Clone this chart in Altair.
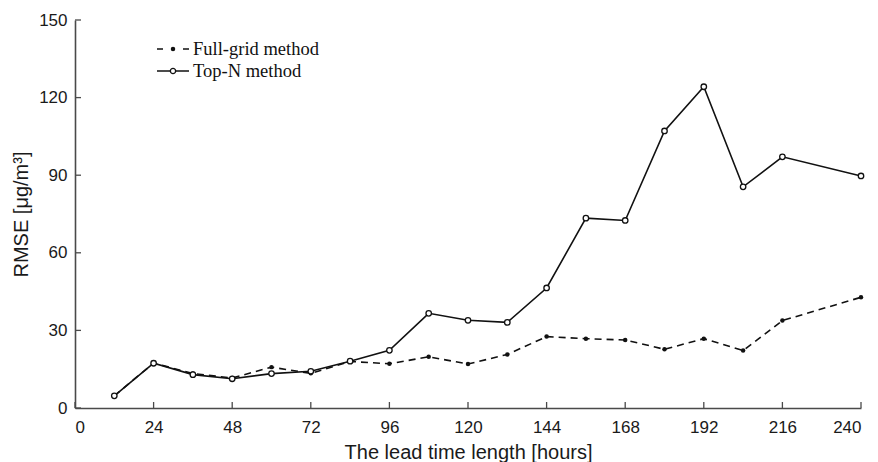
import altair as alt
import pandas as pd

# ---- data ----
hours = [12, 24, 36, 48, 60, 72, 84, 96, 108, 120, 132, 144, 156, 168, 180, 192, 204, 216, 240]
top_n = [4.7, 17.3, 12.9, 11.3, 13.3, 14.2, 18.1, 22.3, 36.6, 33.9, 33.1, 46.4, 73.4, 72.5,
         107.1, 124.2, 85.5, 97.1, 89.7]
full_grid = [4.7, 17.4, 13.3, 11.6, 15.8, 13.4, 18.0, 17.1, 19.8, 17.0, 20.7, 27.6, 26.8, 26.3,
             22.7, 26.8, 22.2, 33.8, 42.8]
x_ticks = [0, 24, 48, 72, 96, 120, 144, 168, 192, 216, 240]
y_ticks = [0, 30, 60, 90, 120, 150]
series_names = ["Full-grid method", "Top-N method"]

W, H = 786, 388
AX = "#4a4a4a"
INK = "#111111"

df_full = pd.DataFrame({"hours": hours, "rmse": full_grid})
df_top = pd.DataFrame({"hours": hours, "rmse": top_n})
df_xt = pd.DataFrame({"hours": x_ticks})
df_yt = pd.DataFrame({"rmse": y_ticks})

X = alt.X("hours:Q", title="The lead time length [hours]",
          scale=alt.Scale(domain=[0, 240], nice=False, zero=False),
          axis=alt.Axis(values=x_ticks, tickSize=0, ticks=False, labelPadding=11,
                        titlePadding=7, grid=False))
Y = alt.Y("rmse:Q", title="RMSE [μg/m³]",
          scale=alt.Scale(domain=[0, 150], nice=False),
          axis=alt.Axis(values=y_ticks, tickSize=0, ticks=False, labelPadding=8,
                        titlePadding=7, grid=False))

full_line = alt.Chart(df_full).mark_line(color=INK, strokeWidth=1.6, strokeDash=[7, 5]).encode(x=X, y=Y)
full_pts = alt.Chart(df_full).mark_point(shape="circle", filled=True, color=INK, size=20, opacity=1).encode(x=X, y=Y)
top_line = alt.Chart(df_top).mark_line(color=INK, strokeWidth=1.6).encode(x=X, y=Y)
top_pts = alt.Chart(df_top).mark_point(shape="circle", filled=True, fill="white", stroke=INK,
                                       strokeWidth=1.3, size=30, opacity=1).encode(x=X, y=Y)

# inward tick marks
xtick = alt.Chart(df_xt).mark_rule(color=AX, strokeWidth=1.3).encode(
    x=X, y=alt.value(H), y2=alt.value(H - 6))
ytick = alt.Chart(df_yt).mark_rule(color=AX, strokeWidth=1.3).encode(
    y=Y, x=alt.value(0), x2=alt.value(6))

# custom legend
LEG_FONT = "Liberation Serif"
r1, r2 = 29, 51
lx0, lx1, lxm, ltx = 82, 114, 98, 118
leg1 = pd.DataFrame({"label": [series_names[0]]})
leg2 = pd.DataFrame({"label": [series_names[1]]})
l1_line = alt.Chart(leg1).mark_rule(color=INK, strokeWidth=1.5, strokeDash=[6, 20]).encode(
    x=alt.value(lx0), x2=alt.value(lx1), y=alt.value(r1))
l1_pt = alt.Chart(leg1).mark_point(shape="circle", filled=True, color=INK, size=20, opacity=1).encode(
    x=alt.value(lxm), y=alt.value(r1))
l1_txt = alt.Chart(leg1).mark_text(align="left", baseline="middle", font=LEG_FONT, fontSize=18.5,
                                   color=INK).encode(x=alt.value(ltx), y=alt.value(r1), text="label:N")
l2_line = alt.Chart(leg2).mark_rule(color=INK, strokeWidth=1.5).encode(
    x=alt.value(lx0), x2=alt.value(lx1), y=alt.value(r2))
l2_pt = alt.Chart(leg2).mark_point(shape="circle", filled=True, fill="white", stroke=INK,
                                   strokeWidth=1.3, size=28, opacity=1).encode(
    x=alt.value(lxm), y=alt.value(r2))
l2_txt = alt.Chart(leg2).mark_text(align="left", baseline="middle", font=LEG_FONT, fontSize=18.5,
                                   color=INK).encode(x=alt.value(ltx), y=alt.value(r2), text="label:N")

chart = alt.layer(
    full_line, top_line, full_pts, top_pts, xtick, ytick,
    l1_line, l1_pt, l1_txt, l2_line, l2_pt, l2_txt
).properties(
    width=W, height=H,
    autosize=alt.AutoSizeParams(type="none"),
    padding={"left": 75, "top": 20, "right": 17, "bottom": 54},
    background="white",
).configure_view(stroke=None).configure_axis(
    domainColor=AX, domainWidth=1.6,
    labelFont="Liberation Sans", labelFontSize=17, labelColor="#1a1a1a",
    titleFont="Liberation Sans", titleFontSize=20, titleColor="#1a1a1a", titleFontWeight="normal",
)

chart.save("out.html", embed_options={"renderer": "svg", "actions": False})
